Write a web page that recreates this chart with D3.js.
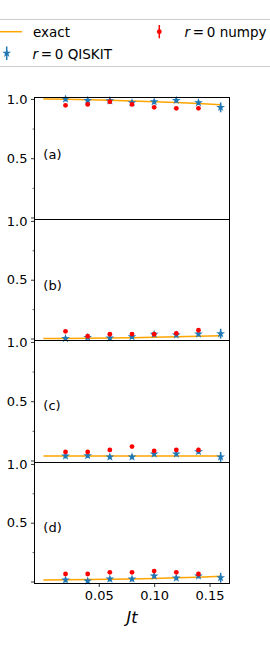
<!DOCTYPE html>
<html><head><meta charset="utf-8">
<script src="https://cdn.jsdelivr.net/npm/d3@7"></script>
<style>body{margin:0;background:#fff}svg{display:block}text{font-family:"DejaVu Sans",sans-serif}</style>
</head><body><svg id="c" width="270" height="648"></svg>
<script>
// ---- data ----
const jt = [0.02, 0.04, 0.06, 0.08, 0.10, 0.12, 0.14, 0.16];
const jtNumpy = [0.02, 0.04, 0.06, 0.08, 0.10, 0.12, 0.14];
const exactT = [0, 0.02, 0.04, 0.06, 0.08, 0.10, 0.12, 0.14, 0.16];
const panelNames = ["(a)", "(b)", "(c)", "(d)"];
const labelY = [0.49, 0.41, 0.43, 0.42];

const exactA = [1.0, 0.998, 0.994, 0.989, 0.983, 0.977, 0.970, 0.961, 0.951];
const exactB = [0.0, 0.001, 0.002, 0.004, 0.007, 0.010, 0.014, 0.019, 0.024];
const exactC = [0.038, 0.038, 0.038, 0.038, 0.038, 0.038, 0.038, 0.038, 0.038];
const exactD = [0.013, 0.014, 0.016, 0.019, 0.022, 0.026, 0.031, 0.037, 0.044];

const qiskitA = [0.999, 0.988, 0.985, 0.968, 0.976, 0.988, 0.968, 0.929];
const qiskitB = [0.0, 0.010, 0.004, 0.015, 0.036, 0.030, 0.038, 0.041];
const qiskitC = [0.038, 0.041, 0.030, 0.030, 0.055, 0.055, 0.075, 0.030];
const qiskitD = [0.013, 0.004, 0.021, 0.021, 0.047, 0.030, 0.047, 0.032];
const qiskitErr = [0.02, 0.02, 0.02, 0.02, 0.02, 0.02, 0.02, 0.042];

const numpyA = [0.946, 0.954, 0.976, 0.954, 0.929, 0.921, 0.921];
const numpyB = [0.061, 0.019, 0.036, 0.038, 0.036, 0.044, 0.070];
const numpyC = [0.072, 0.072, 0.089, 0.117, 0.081, 0.089, 0.089];
const numpyD = [0.064, 0.064, 0.078, 0.078, 0.089, 0.078, 0.064];
const numpyErr = [0.008, 0.008, 0.008, 0.008, 0.008, 0.008, 0.008];

const xTicks = [0.05, 0.10, 0.15];
const yTicksMajor = [0, 0.5, 1.0];
const yTickLabels = ["", "0.5", "1.0"];
const yTicksMinor = [0.25, 0.75];

const exactSeries = [exactA, exactB, exactC, exactD];
const qiskitSeries = [qiskitA, qiskitB, qiskitC, qiskitD];
const numpySeries = [numpyA, numpyB, numpyC, numpyD];

// ---- layout ----
const svg = d3.select("#c");
const left = 34.5, right = 229.5;
const edges = [97.5, 219.5, 340.5, 462.5, 583.5];
const blue = "#1f77b4", orange = "#ffa500", red = "#ff0000";

const x = d3.scaleLinear().domain([-0.008, 0.168]).range([left, right]);
const star = d3.symbol().type(d3.symbolStar).size(24);

// legend
const lg = svg.append("g");
lg.append("rect").attr("x", -10).attr("y", 19.5).attr("width", 290).attr("height", 47)
  .attr("rx", 3).attr("fill", "#fff").attr("stroke", "#cccccc").attr("stroke-width", 1);
lg.append("line").attr("x1", 0).attr("x2", 22).attr("y1", 31.7).attr("y2", 31.7)
  .attr("stroke", orange).attr("stroke-width", 1.5);
lg.append("text").attr("x", 33).attr("y", 36.5).attr("font-size", 13.5).attr("fill", "#000").text("exact");
// QISKIT handle
lg.append("line").attr("x1", 6.7).attr("x2", 6.7).attr("y1", 46.5).attr("y2", 60)
  .attr("stroke", blue).attr("stroke-width", 1.5);
lg.append("path").attr("d", star()).attr("transform", "translate(6.7,53.3)").attr("fill", blue);
function mathLabel(g, xx, yy, rest) {
  const t = g.append("text").attr("x", xx).attr("y", yy).attr("font-size", 13.5).attr("fill", "#000");
  t.append("tspan").attr("font-style", "italic").text("r");
  t.append("tspan").text("\u2009=\u20090 " + rest);
}
mathLabel(lg, 32.5, 59, "QISKIT");
// numpy handle
lg.append("line").attr("x1", 159.3).attr("x2", 159.3).attr("y1", 25).attr("y2", 38.3)
  .attr("stroke", red).attr("stroke-width", 1.5);
lg.append("circle").attr("cx", 159.3).attr("cy", 31.7).attr("r", 2.4).attr("fill", red);
mathLabel(lg, 184.5, 36.5, "numpy");

// panels
for (let i = 0; i < 4; i++) {
  const top = edges[i], bot = edges[i + 1];
  const y = d3.scaleLinear().domain([-0.017, 1.012]).range([bot, top]);
  const g = svg.append("g");
  const line = d3.line().x((d, k) => x(exactT[k])).y(d => y(d));
  g.append("path").datum(exactSeries[i]).attr("d", line)
    .attr("fill", "none").attr("stroke", orange).attr("stroke-width", 1.5);
  g.selectAll(".qe").data(qiskitSeries[i]).join("line")
    .attr("x1", (d, k) => x(jt[k])).attr("x2", (d, k) => x(jt[k]))
    .attr("y1", (d, k) => y(d - qiskitErr[k])).attr("y2", (d, k) => y(d + qiskitErr[k]))
    .attr("stroke", blue).attr("stroke-width", 1.5);
  g.selectAll(".qs").data(qiskitSeries[i]).join("path")
    .attr("d", star()).attr("transform", (d, k) => `translate(${x(jt[k])},${y(d)})`)
    .attr("fill", blue);
  g.selectAll(".ne").data(numpySeries[i]).join("line")
    .attr("x1", (d, k) => x(jtNumpy[k])).attr("x2", (d, k) => x(jtNumpy[k]))
    .attr("y1", (d, k) => y(d - numpyErr[k])).attr("y2", (d, k) => y(d + numpyErr[k]))
    .attr("stroke", red).attr("stroke-width", 1.5);
  g.selectAll(".nd").data(numpySeries[i]).join("circle")
    .attr("cx", (d, k) => x(jtNumpy[k])).attr("cy", d => y(d)).attr("r", 2.4).attr("fill", red);
  g.append("text").attr("x", x(0)).attr("y", y(labelY[i])).attr("font-size", 13)
    .attr("fill", "#000").text(panelNames[i]);
  const ya = d3.axisLeft(y).tickValues(yTicksMajor).tickSize(3.5).tickPadding(3.5)
    .tickFormat((d, k) => yTickLabels[k]);
  const yg = svg.append("g").attr("transform", `translate(${left},0)`).call(ya);
  yg.select(".domain").remove();
  yg.selectAll("text").attr("font-size", 13).attr("font-family", "DejaVu Sans").attr("fill", "#000");
  yg.selectAll("line").attr("stroke", "#000").attr("stroke-width", 0.8);
  const ym = d3.axisLeft(y).tickValues(yTicksMinor).tickSize(2).tickFormat("");
  const ymg = svg.append("g").attr("transform", `translate(${left},0)`).call(ym);
  ymg.select(".domain").remove();
  ymg.selectAll("line").attr("stroke", "#000").attr("stroke-width", 0.6);
  svg.append("rect").attr("x", left).attr("y", top).attr("width", right - left).attr("height", bot - top)
    .attr("fill", "none").attr("stroke", "#000").attr("stroke-width", 1);
}

// x axis
const bottom = edges[4];
const xa = d3.axisBottom(x).tickValues(xTicks).tickSize(3.5).tickPadding(3.5).tickFormat(d3.format(".2f"));
const xg = svg.append("g").attr("transform", `translate(0,${bottom})`).call(xa);
xg.select(".domain").remove();
xg.selectAll("text").attr("font-size", 13).attr("font-family", "DejaVu Sans").attr("fill", "#000");
xg.selectAll("line").attr("stroke", "#000").attr("stroke-width", 0.8);

svg.append("text").attr("x", (left + right) / 2).attr("y", 623).attr("text-anchor", "middle")
  .attr("font-size", 16).attr("font-style", "italic").attr("fill", "#000").text("Jt");
</script></body></html>
